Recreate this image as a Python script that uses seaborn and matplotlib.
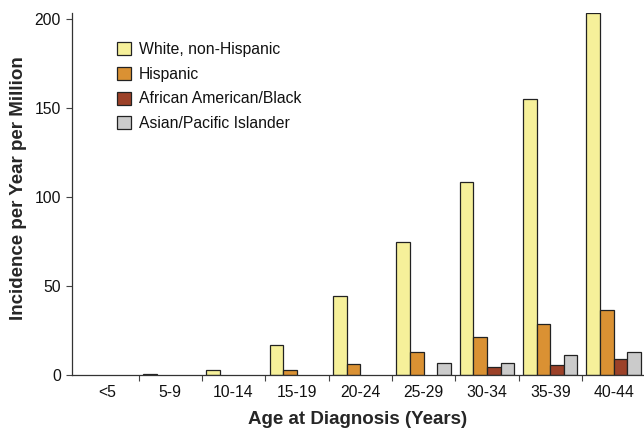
import matplotlib
matplotlib.use("Agg")
import matplotlib.pyplot as plt
import seaborn as sns
import pandas as pd
import numpy as np

# Incidence per year per million, by age group and ethnicity
age_groups = ["<5", "5-9", "10-14", "15-19", "20-24", "25-29", "30-34", "35-39", "40-44"]
white_non_hispanic = [0, 0.5, 3, 17, 44.5, 75, 108.5, 155, 203.5]
hispanic = [0, 0, 0, 3, 6, 13, 21.5, 28.5, 36.5]
african_american = [0, 0, 0, 0, 0, 0, 4.5, 5.5, 9]
asian_pacific = [0, 0, 0, 0, 0, 6.5, 7, 11.5, 13]

groups = ["White, non-Hispanic", "Hispanic", "African American/Black", "Asian/Pacific Islander"]
colors = ["#F6F09A", "#DA9133", "#9C4128", "#CBCBCB"]
series = [white_non_hispanic, hispanic, african_american, asian_pacific]

rows = []
for g, vals in zip(groups, series):
    for a, v in zip(age_groups, vals):
        if v > 0:
            rows.append({"age": a, "group": g, "value": v})
df = pd.DataFrame(rows)

sns.set_theme(style="white")
plt.rcParams["font.family"] = ["Liberation Sans", "DejaVu Sans"]

fig = plt.figure(figsize=(6.44, 4.28), dpi=100)
ax = fig.add_axes([72 / 644, 1 - 375 / 428, 572 / 644, 362 / 428])

sns.barplot(data=df, x="age", y="value", hue="group", order=age_groups,
            hue_order=groups, palette=colors, width=0.86, saturation=1,
            edgecolor="#222222", linewidth=0.9, ax=ax, legend=True)

ax.set_xlim(-0.55, 8.48)
ax.set_ylim(0, 203.5)
ax.set_yticks([0, 50, 100, 150, 200])

# category labels centred, tick marks between categories
ax.set_xticks(range(len(age_groups)))
ax.set_xticklabels(age_groups)
ax.set_xticks(np.arange(0.5, len(age_groups) - 1, 1), minor=True)
ax.tick_params(axis="x", which="major", length=0, labelsize=11.3, pad=7, labelcolor="#111111")
ax.tick_params(axis="x", which="minor", direction="out", length=4, width=0.8, color="#444444", bottom=True)
ax.tick_params(axis="y", which="major", direction="out", length=4, width=0.8, color="#444444",
               labelsize=11.3, pad=4, left=True, labelcolor="#111111")

for side in ["top", "right"]:
    ax.spines[side].set_visible(False)
for side in ["left", "bottom"]:
    ax.spines[side].set_color("#333333")
    ax.spines[side].set_linewidth(0.9)

ax.set_xlabel("Age at Diagnosis (Years)", fontsize=13.5, fontweight="bold", labelpad=8)
ax.set_ylabel("Incidence per Year per Million", fontsize=13.5, fontweight="bold")
ax.yaxis.set_label_coords(27 / 644, 1 - 188 / 428, transform=fig.transFigure)

leg = ax.legend(loc="upper left", bbox_to_anchor=(117 / 644, 1 - 42 / 428),
                bbox_transform=fig.transFigure, frameon=False, fontsize=11.3,
                handlelength=0.9, handleheight=0.9, handletextpad=0.5,
                labelspacing=0.62, borderpad=0, borderaxespad=0)
for t in leg.get_texts():
    t.set_color("#111111")

fig.savefig("out.png", dpi=100)
